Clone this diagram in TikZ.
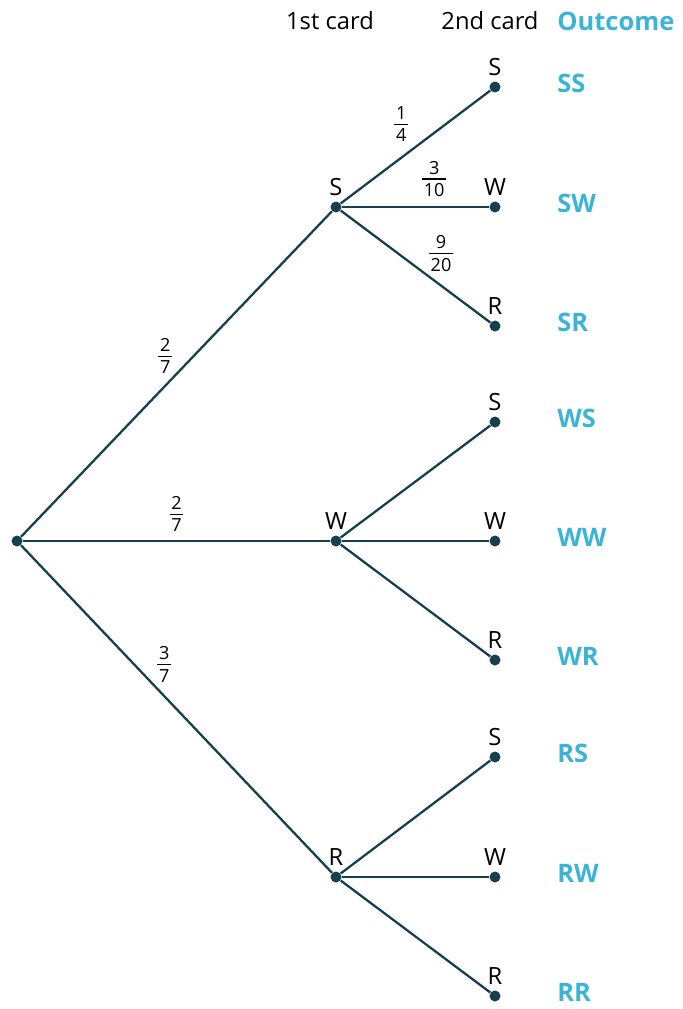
\documentclass[tikz,border=0pt]{standalone}
\usepackage{fontspec}
\setmainfont{Open Sans}
\usepackage{tikz}
\usetikzlibrary{positioning}
\definecolor{branch}{HTML}{173F4F}
\definecolor{outcome}{HTML}{3BB4D6}
\newcommand{\prob}[2]{\vbox{\halign{\hfil\kern1pt##\kern1pt\hfil\cr #1\cr
  \noalign{\kern2.3pt\hrule height 0.6pt\kern2.3pt}#2\cr}}}

\begin{document}
\begin{tikzpicture}[x=0.02cm, y=-0.02cm,
  dot/.style={circle, fill=branch, minimum size=0.22cm, inner sep=0pt},
  lab/.style={font=\fontsize{13.5}{16}\selectfont, inner sep=0pt, label distance=0.11cm},
  edge/.style={draw=branch, line width=1.3pt},
  frac/.style={inner sep=0pt, font=\fontsize{10.3}{10}\selectfont},
  res/.style={anchor=west, inner sep=0pt, text=outcome, font=\fontsize{14.5}{17}\selectfont\bfseries},
  head/.style={font=\fontsize{13.5}{16}\selectfont, inner sep=0pt}]
  \useasboundingbox (0,0) rectangle (683,1009);
  % headings
  \node[head] (first) at (330,21) {1st card};
  \node[head] (second) at (490,21) {2nd card};
  \node[res] (outhead) at (557,21) {Outcome};
  % first card
  \node[dot] (root) at (17,541) {};
  \node[dot, label={[lab]above:S}] (s) at (336,207) {};
  \node[dot, label={[lab]above:W}] (w) at (336,541) {};
  \node[dot, label={[lab]above:R}] (r) at (336,877) {};
  % second card
  \node[dot, label={[lab]above:S}] (ss) at (495,87) {};
  \node[dot, label={[lab]above:W}] (sw) at (495,207) {};
  \node[dot, label={[lab]above:R}] (sr) at (495,326) {};
  \node[dot, label={[lab]above:S}] (ws) at (495,422) {};
  \node[dot, label={[lab]above:W}] (ww) at (495,541) {};
  \node[dot, label={[lab]above:R}] (wr) at (495,660) {};
  \node[dot, label={[lab]above:S}] (rs) at (495,757) {};
  \node[dot, label={[lab]above:W}] (rw) at (495,877) {};
  \node[dot, label={[lab]above:R}] (rr) at (495,996) {};
  % branches
  \draw[edge] (root) -- node[frac, pos=0.464, above=0.22cm] {\prob{2}{7}} (s);
  \draw[edge] (root) -- node[frac, pos=0.5, above=0.16cm] {\prob{2}{7}} (w);
  \draw[edge] (root) -- node[frac, pos=0.461, above=0.26cm] {\prob{3}{7}} (r);
  \draw[edge] (s) -- node[frac, pos=0.405, above=0.3cm] {\prob{1}{4}} (ss);
  \draw[edge] (s) -- node[frac, pos=0.627, above=0.18cm] {\prob{3}{10}} (sw);
  \draw[edge] (s) -- node[frac, pos=0.671, above=0.26cm] {\prob{9}{20}} (sr);
  \draw[edge] (w) -- (ws);
  \draw[edge] (w) -- (ww);
  \draw[edge] (w) -- (wr);
  \draw[edge] (r) -- (rs);
  \draw[edge] (r) -- (rw);
  \draw[edge] (r) -- (rr);
  % outcomes
  \node[res] (oss) at (557,83) {SS};
  \node[res] (osw) at (557,203) {SW};
  \node[res] (osr) at (557,322) {SR};
  \node[res] (ows) at (557,418) {WS};
  \node[res] (oww) at (557,537) {WW};
  \node[res] (owr) at (557,656) {WR};
  \node[res] (ors) at (557,753) {RS};
  \node[res] (orw) at (557,873) {RW};
  \node[res] (orr) at (557,992) {RR};
\end{tikzpicture}
\end{document}
